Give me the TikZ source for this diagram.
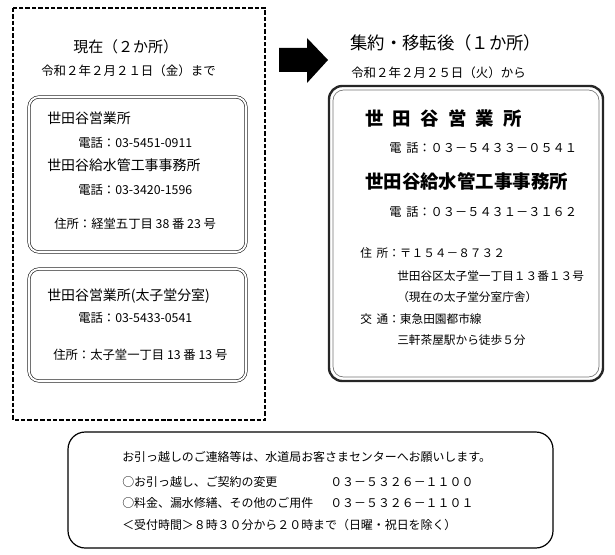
\documentclass[tikz,border=0pt]{standalone}
\usepackage{fontspec}
\setmainfont{Noto Sans CJK JP}
\usepackage{tikz}
\newcommand{\widegaps}[1]{\spaceskip=#1\relax}

\begin{document}
\begin{tikzpicture}[x=0.0265cm, y=0.0265cm]
					\tikzstyle{every node}+=[inner sep=0pt]
					\tikzstyle{ttl}=[font=\fontsize{11.3}{13}\selectfont]
					\tikzstyle{rttl}=[font=\fontsize{13.1}{15}\selectfont]
					\tikzstyle{date}=[font=\fontsize{9.4}{11}\selectfont]
					\tikzstyle{lhead}=[font=\fontsize{10.5}{12}\selectfont]
					\tikzstyle{ldet}=[font=\fontsize{9.3}{11}\selectfont]
					\tikzstyle{rhead}=[font=\fontsize{13.9}{16}\selectfont\bfseries\widegaps{0.5em}]
					\tikzstyle{rtel}=[font=\fontsize{9.2}{11}\selectfont\widegaps{0.4em}]
					\tikzstyle{radr}=[font=\fontsize{8.8}{10}\selectfont\widegaps{0.4em}]
					\tikzstyle{btm}=[font=\fontsize{9}{11}\selectfont]
					\tikzstyle{oldbox}=[black!85, line width=0.5pt, double=white, double distance=1.4pt, rounded corners=7.5pt]
					\useasboundingbox (0,0) rectangle (615,-555);
					% before the move
					\draw [black, line width=0.9pt, dash pattern=on 3.3pt off 1.5pt] (13,-8) rectangle (265,-420);
					\draw (73,-47) node [ttl, right] (nowttl) {現在（２か所）};
					\draw (41,-71) node [date, right] (nowdate) {令和２年２月２１日（金）まで};
					\draw [oldbox] (29,-97) rectangle (246,-252);
					\draw (47,-118) node [lhead, right] (oldA) {世田谷営業所};
					\draw (78,-143) node [ldet, right] (oldAtel) {電話：03-5451-0911};
					\draw (47,-165) node [lhead, right] (oldB) {世田谷給水管工事事務所};
					\draw (78,-190) node [ldet, right] (oldBtel) {電話：03-3420-1596};
					\draw (54,-224) node [ldet, right] (oldBadr) {住所：経堂五丁目 38 番 23 号};
					\draw [oldbox] (29,-269) rectangle (246,-381);
					\draw (47,-296) node [lhead, right] (oldC) {世田谷営業所(太子堂分室)};
					\draw (78,-318) node [ldet, right] (oldCtel) {電話：03-5433-0541};
					\draw (53,-355) node [ldet, right] (oldCadr) {住所：太子堂一丁目 13 番 13 号};
					% arrow
					\fill [black] (279,-48) -- (307,-48) -- (307,-38) -- (328,-60) -- (307,-83) -- (307,-72) -- (279,-72) -- cycle;
					% after the move
					\draw (350,-43) node [rttl, right] (newttl) {集約・移転後（１か所）};
					\draw (351,-73) node [date, right] (newdate) {令和２年２月２５日（火）から};
					\draw [black!85, line width=1.8pt, rounded corners=10pt] (329,-86) rectangle (603,-381);
					\draw [black!55, line width=0.5pt, rounded corners=8pt] (333,-90) rectangle (599,-377);
					\draw (365,-118) node [rhead, right] (newA) {世 田 谷 営 業 所};
					\draw (389,-148) node [rtel, right] (newAtel) {電 話：０３－５４３３－０５４１};
					\draw (365,-181) node [rhead, right] (newB) {世田谷給水管工事事務所};
					\draw (389,-212) node [rtel, right] (newBtel) {電 話：０３－５４３１－３１６２};
					\draw (360,-253) node [radr, right] (newadr) {住 所：〒１５４－８７３２};
					\draw (397,-276) node [radr, right] (newadrA) {世田谷区太子堂一丁目１３番１３号};
					\draw (397,-297) node [radr, right] (newadrB) {（現在の太子堂分室庁舎）};
					\draw (360,-319) node [radr, right] (newrail) {交 通：東急田園都市線};
					\draw (397,-340) node [radr, right] (newwalk) {三軒茶屋駅から徒歩５分};
					% customer center
					\draw [black, line width=0.9pt, rounded corners=13pt] (68,-432) rectangle (553,-548);
					\draw (122,-457) node [btm, right] (callA) {お引っ越しのご連絡等は、水道局お客さまセンターへお願いします。};
					\draw (122,-482) node [btm, right] (callB) {○お引っ越し、ご契約の変更};
					\draw (330,-482) node [btm, right] (telB) {０３－５３２６－１１００};
					\draw (122,-503) node [btm, right] (callC) {○料金、漏水修繕、その他のご用件};
					\draw (330,-503) node [btm, right] (telC) {０３－５３２６－１１０１};
					\draw (122,-525) node [btm, right] (hours) {＜受付時間＞８時３０分から２０時まで（日曜・祝日を除く）};
\end{tikzpicture}
\end{document}
